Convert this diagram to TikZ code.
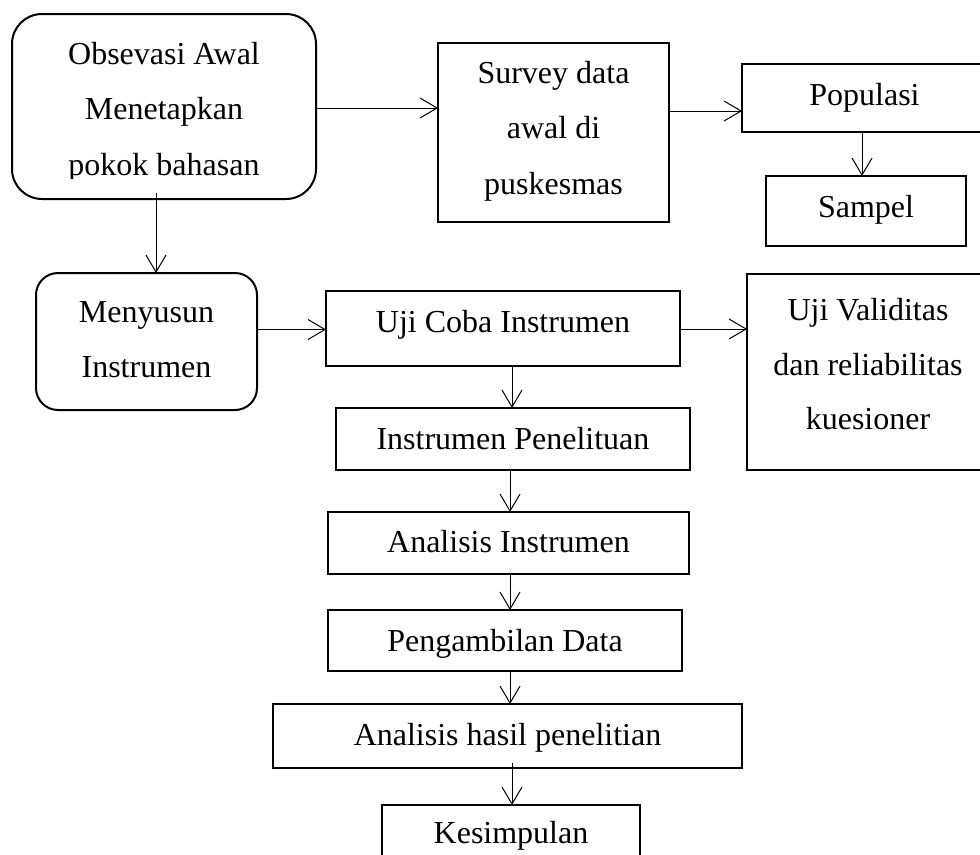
\documentclass[tikz,border=0pt]{standalone}
\usepackage{fontspec}
\setmainfont{Liberation Serif}
\usetikzlibrary{arrows.meta}
\tikzset{
  box/.style={draw=black, line width=1.5pt, rectangle, inner sep=0pt, outer sep=0pt},
  rbox/.style={box, rounded corners=#1},
  wh/.style 2 args={minimum width=#1*0.75pt, minimum height=#2*0.75pt},
  txt/.style={inner sep=0pt, anchor=base, font=\fontsize{24}{29}\selectfont},
  arr/.style={draw=black, line width=0.75pt, -{Straight Barb[length=12.75pt,width=15pt]}}
}
\begin{document}
\begin{tikzpicture}[x=0.75pt,y=-0.75pt]
\useasboundingbox (0,0) rectangle (980,854);
\clip (0,0) rectangle (980,854);

% boxes
\node[rbox=22.5pt, wh={304}{185}] (obs) at (164,106.5) {};
\node[box, wh={231}{179}] (survey) at (553.5,132.5) {};
\node[box, wh={245}{68}] (pop) at (864.5,98) {};
\node[box, wh={200}{70}] (sampel) at (866,211) {};
\node[rbox=16.5pt, wh={221}{137}] (menyusun) at (146.5,341.5) {};
\node[box, wh={354}{75}] (ujicoba) at (503,328.5) {};
\node[box, wh={242}{196}] (ujivalid) at (868,372) {};
\node[box, wh={354}{62}] (instpen) at (513,439) {};
\node[box, wh={361}{62}] (analisis) at (508.5,543) {};
\node[box, wh={354}{61}] (ambil) at (505,640.5) {};
\node[box, wh={469}{64}] (hasil) at (507.5,736) {};
\node[box, wh={258}{70}] (kesimpulan) at (511,840) {};

% texts
\node[txt] (t1a) at (obs.center |- 0,64) {Obsevasi Awal};
\node[txt] (t1b) at (obs.center |- 0,119) {Menetapkan};
\begin{scope}
  \clip (0,0) rectangle (980,178);
  \node[txt] (t1c) at (obs.center |- 0,175) {pokok bahasan};
\end{scope}
\node[txt] (t2a) at (survey.center |- 0,83) {Survey data};
\node[txt] (t2b) at (survey.center |- 0,138) {awal di};
\node[txt] (t2c) at (survey.center |- 0,194) {puskesmas};
\node[txt] (t3) at (pop.center |- 0,105) {Populasi};
\node[txt] (t4) at (sampel.center |- 0,217) {Sampel};
\node[txt] (t5a) at (menyusun.center |- 0,322) {Menyusun};
\node[txt] (t5b) at (menyusun.center |- 0,377) {Instrumen};
\node[txt] (t6) at (ujicoba.center |- 0,332) {Uji Coba Instrumen};
\node[txt] (t7a) at (ujivalid.center |- 0,320) {Uji Validitas};
\node[txt] (t7b) at (ujivalid.center |- 0,375) {dan reliabilitas};
\node[txt] (t7c) at (ujivalid.center |- 0,429) {kuesioner};
\node[txt] (t8) at (instpen.center |- 0,449) {Instrumen Penelituan};
\node[txt] (t9) at (analisis.center |- 0,552) {Analisis Instrumen};
\node[txt] (t10) at (ambil.center |- 0,651) {Pengambilan Data};
\node[txt] (t11) at (hasil.center |- 0,745) {Analisis hasil penelitian};
\node[txt] (t12) at (kesimpulan.center |- 0,843) {Kesimpulan};

% connectors
\draw[arr] (obs.east |- 0,108) -- (survey.west |- 0,108);
\coordinate (s1) at (156,193);
\draw[arr] (s1) -- (s1 |- menyusun.north);
\draw[arr] (survey.east |- 0,111) -- (pop.west |- 0,111);
\draw[arr] (pop.south -| 862,0) -- (sampel.north -| 862,0);
\draw[arr] (menyusun.east |- 0,329.5) -- (ujicoba.west |- 0,329.5);
\draw[arr] (ujicoba.east |- 0,329) -- (ujivalid.west |- 0,329);
\draw[arr] (ujicoba.south -| 512,0) -- (instpen.north -| 512,0);
\draw[arr] (instpen.south -| 510,0) -- (analisis.north -| 510,0);
\draw[arr] (analisis.south -| 510,0) -- (ambil.north -| 510,0);
\draw[arr] (ambil.south -| 510,0) -- (hasil.north -| 510,0);
\coordinate (s2) at (512,763);
\draw[arr] (s2) -- (s2 |- kesimpulan.north);
\end{tikzpicture}
\end{document}
